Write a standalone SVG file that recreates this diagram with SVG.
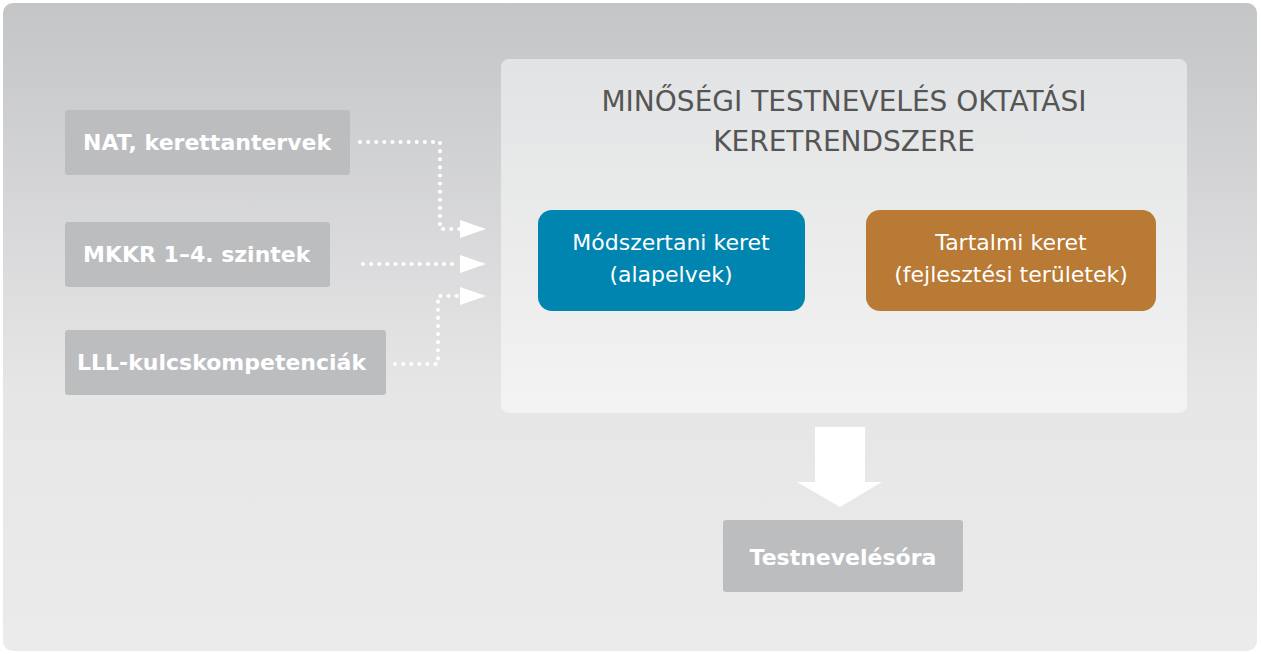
<svg xmlns="http://www.w3.org/2000/svg" width="1261" height="654" viewBox="0 0 1261 654">
<defs>
<linearGradient id="bg" x1="0" y1="0" x2="0" y2="1"><stop offset="0" stop-color="#c4c5c7"/><stop offset="0.6" stop-color="#e6e6e7"/><stop offset="1" stop-color="#ebebeb"/></linearGradient>
<linearGradient id="fr" x1="0" y1="0" x2="0" y2="1"><stop offset="0" stop-color="#e2e3e4"/><stop offset="1" stop-color="#f3f3f3"/></linearGradient>
<marker id="ah" viewBox="0 0 26 18" refX="0" refY="9" markerWidth="26" markerHeight="18" markerUnits="userSpaceOnUse" orient="auto"><path d="M0,0 L26,9 L0,18 Z" fill="#fff"/></marker>
</defs>
<style>
.gbox{fill:#bcbdbf}
.gt{font-family:"DejaVu Sans",sans-serif;font-weight:bold;font-size:22px;fill:#fff}
.ct{font-family:"DejaVu Sans",sans-serif;font-size:22px;fill:#fff;text-anchor:middle}
.dot{fill:none;stroke:#fff;stroke-width:4;stroke-linecap:round;stroke-dasharray:0.1 8}
</style>
<rect x="3" y="3" width="1254" height="648" rx="10" fill="url(#bg)"/>
<g id="frame">
<rect x="501" y="59" width="686" height="354" rx="8" fill="url(#fr)"/>
<text x="844" y="111" text-anchor="middle" font-family="DejaVu Sans,sans-serif" font-size="28" fill="#555">MINŐSÉGI TESTNEVELÉS OKTATÁSI</text>
<text x="844" y="151" text-anchor="middle" font-family="DejaVu Sans,sans-serif" font-size="28" fill="#555">KERETRENDSZERE</text>
</g>
<g id="nat"><rect class="gbox" x="65" y="110" width="285" height="65" rx="3"/><text class="gt" x="83" y="150">NAT, kerettantervek</text></g>
<g id="mkkr"><rect class="gbox" x="65" y="222" width="265" height="65" rx="3"/><text class="gt" x="83" y="262">MKKR 1–4. szintek</text></g>
<g id="lll"><rect class="gbox" x="65" y="330" width="321" height="65" rx="3"/><text class="gt" x="77" y="370">LLL-kulcskompetenciák</text></g>
<g id="modsz"><rect x="538" y="210" width="267" height="101" rx="14" fill="#0085b0"/><text class="ct" x="671" y="250">Módszertani keret</text><text class="ct" x="671" y="282">(alapelvek)</text></g>
<g id="tart"><rect x="866" y="210" width="290" height="101" rx="14" fill="#b87a34"/><text class="ct" x="1011" y="250">Tartalmi keret</text><text class="ct" x="1011" y="282">(fejlesztési területek)</text></g>
<g id="tno"><rect class="gbox" x="723" y="520" width="240" height="72" rx="3"/><text class="gt" x="843" y="565" text-anchor="middle">Testnevelésóra</text></g>
<g id="connectors">
<path class="dot" d="M360,142 H440 V229 H460" marker-end="url(#ah)"/>
<path class="dot" d="M363,264 H460" marker-end="url(#ah)"/>
<path class="dot" d="M395,364 H438 V296 H460" marker-end="url(#ah)"/>
<path d="M815,427 H865 V482 H882 L840,507 L797,482 H815 Z" fill="#fff"/>
</g>
</svg>
